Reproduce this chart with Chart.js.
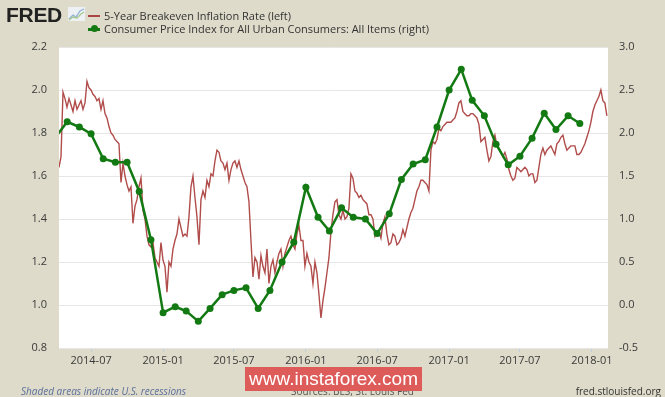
<!DOCTYPE html>
<html lang="en">
<head>
  <meta charset="UTF-8" />
  <title>5-Year Breakeven Inflation Rate vs CPI</title>
  <script src="https://cdn.jsdelivr.net/npm/chart.js"></script>
  <style>
    html, body { margin: 0; padding: 0; }
    body { background: #dedbca; font-family: 'Open Sans', sans-serif; }
    #wrap { position: relative; width: 665px; height: 397px; overflow: hidden; }
    #chart { position: absolute; left: 0; top: 0; }
    .logo { position: absolute; left: 6px; top: 3px; font: bold 21px 'Liberation Sans', Arial, sans-serif; color: #222; letter-spacing: -0.3px; }
    .logo-icon { position: absolute; left: 68px; top: 6px; }
    .legend { position: absolute; left: 88px; font-size: 11px; color: #333; white-space: nowrap; }
    .legend span.key { display: inline-block; position: relative; width: 12px; height: 2px; vertical-align: middle; margin-right: 4px; top: -1px; }
    .legend span.dot { position: absolute; left: 3px; top: -3px; width: 7px; height: 7px; border-radius: 50%; background: #137a13; }
    .foot { position: absolute; top: 384px; font-size: 10px; color: #333; white-space: nowrap; }
    .promo { position: absolute; left: 245px; top: 367px; width: 177px; height: 24px; background: #dd5c5a; color: #fff;
             font: 19px 'Liberation Sans', Arial, sans-serif; text-align: center; line-height: 24px; }
  </style>
</head>
<body>
<div id="wrap">
  <canvas id="chart" width="665" height="397"></canvas>

  <div class="logo">FRED</div>
  <svg class="logo-icon" width="17" height="16" viewBox="0 0 17 16">
    <rect x="0" y="1" width="17" height="14" fill="#eef1f4"/>
    <polyline points="1,13 5,9 8,11 12,5 16,3" fill="none" stroke="#8fb3d6" stroke-width="1.3"/>
    <polyline points="1,14 5,11 9,12 13,8 16,6" fill="none" stroke="#a7c98f" stroke-width="1.3"/>
  </svg>

  <div class="legend" style="top:8px"><span class="key" style="background:#aa4643"></span>5-Year Breakeven Inflation Rate (left)</div>
  <div class="legend" style="top:21px"><span class="key" style="background:#137a13;height:3px"><span class="dot"></span></span>Consumer Price Index for All Urban Consumers: All Items (right)</div>

  <div class="foot" style="left:21px;font-style:italic;color:#5b6f9c">Shaded areas indicate U.S. recessions</div>
  <div class="foot" style="left:291px;color:#555">Sources: BLS, St. Louis Fed</div>
  <div class="promo">www.instaforex.com</div>
  <div class="foot" style="right:4px">fred.stlouisfed.org</div>
</div>

<script>
  // x axis: dates, shown every 6 months
  const tickLabels = ['2014-07', '2015-01', '2015-07', '2016-01', '2016-07', '2017-01', '2017-07', '2018-01'];
  const viewStart = '2014-04-10';
  const viewEnd = '2018-02-11';

  // 5-Year Breakeven Inflation Rate (left axis), every ~5 days from 2014-04-10
  const breakevenStart = '2014-04-10';
  const breakevenStepDays = 5.11;
  const breakeven = [
    1.64, 1.69, 1.99, 1.96, 1.92, 1.96, 1.93, 1.90, 1.95, 1.91,
    1.93, 1.95, 1.91, 1.94, 2.04, 2.01, 2.00, 1.98, 1.97, 1.95,
    1.96, 1.91, 1.95, 1.89, 1.87, 1.83, 1.80, 1.79, 1.77, 1.76,
    1.75, 1.57, 1.66, 1.60, 1.56, 1.53, 1.55, 1.38, 1.46, 1.49,
    1.55, 1.59, 1.44, 1.40, 1.32, 1.28, 1.27, 1.29, 1.22, 1.20,
    1.18, 1.29, 1.21, 1.18, 1.06, 1.20, 1.18, 1.26, 1.30, 1.33,
    1.40, 1.36, 1.32, 1.33, 1.32, 1.41, 1.55, 1.60, 1.50, 1.41,
    1.28, 1.49, 1.53, 1.50, 1.58, 1.55, 1.61, 1.60, 1.67, 1.72,
    1.71, 1.67, 1.66, 1.63, 1.66, 1.58, 1.63, 1.66, 1.67, 1.64,
    1.67, 1.63, 1.60, 1.57, 1.55, 1.48, 1.30, 1.13, 1.22, 1.20,
    1.12, 1.23, 1.18, 1.15, 1.26, 1.10, 1.18, 1.21, 1.15, 1.20,
    1.24, 1.26, 1.18, 1.24, 1.27, 1.30, 1.32, 1.28, 1.26, 1.33,
    1.37, 1.30, 1.30, 1.18, 1.24, 1.20, 1.18, 1.10, 1.20, 1.15,
    1.05, 0.94, 1.02, 1.08, 1.15, 1.22, 1.34, 1.42, 1.48, 1.49,
    1.42, 1.40, 1.44, 1.40, 1.41, 1.45, 1.61, 1.59, 1.53, 1.52,
    1.50, 1.51, 1.49, 1.48, 1.47, 1.42, 1.42, 1.40, 1.32, 1.34,
    1.34, 1.31, 1.38, 1.41, 1.33, 1.28, 1.29, 1.33, 1.32, 1.28,
    1.29, 1.31, 1.35, 1.32, 1.36, 1.40, 1.43, 1.45, 1.49, 1.53,
    1.55, 1.58, 1.58, 1.57, 1.56, 1.53, 1.72, 1.76, 1.75, 1.77,
    1.82, 1.81, 1.83, 1.84, 1.85, 1.85, 1.85, 1.86, 1.87, 1.90,
    1.94, 1.95, 1.90, 1.89, 1.88, 1.88, 1.89, 1.89, 1.88, 1.87,
    1.84, 1.76, 1.77, 1.78, 1.72, 1.67, 1.69, 1.76, 1.79, 1.74,
    1.73, 1.71, 1.69, 1.71, 1.68, 1.63, 1.60, 1.58, 1.59, 1.64,
    1.63, 1.62, 1.63, 1.64, 1.63, 1.60, 1.61, 1.61, 1.57, 1.58,
    1.64, 1.70, 1.73, 1.70, 1.72, 1.73, 1.74, 1.72, 1.70, 1.75,
    1.76, 1.78, 1.79, 1.75, 1.72, 1.73, 1.74, 1.74, 1.74, 1.70,
    1.70, 1.71, 1.73, 1.75, 1.78, 1.81, 1.85, 1.90, 1.93, 1.95,
    1.97, 2.00, 1.95, 1.94, 1.88
  ];

  // CPI, percent change from a year ago (right axis), monthly
  const cpiMonths = [
    '2014-04', '2014-05', '2014-06', '2014-07', '2014-08', '2014-09', '2014-10', '2014-11', '2014-12',
    '2015-01', '2015-02', '2015-03', '2015-04', '2015-05', '2015-06', '2015-07', '2015-08', '2015-09', '2015-10', '2015-11', '2015-12',
    '2016-01', '2016-02', '2016-03', '2016-04', '2016-05', '2016-06', '2016-07', '2016-08', '2016-09', '2016-10', '2016-11', '2016-12',
    '2017-01', '2017-02', '2017-03', '2017-04', '2017-05', '2017-06', '2017-07', '2017-08', '2017-09', '2017-10', '2017-11', '2017-12'
  ];
  const cpi = [
    1.95, 2.13, 2.07, 1.99, 1.70, 1.66, 1.66, 1.32, 0.76,
    -0.09, -0.02, -0.07, -0.19, -0.04, 0.12, 0.17, 0.20, -0.04, 0.17, 0.50, 0.73,
    1.37, 1.02, 0.86, 1.13, 1.02, 1.00, 0.83, 1.06, 1.46, 1.64, 1.69, 2.07,
    2.50, 2.74, 2.38, 2.20, 1.87, 1.63, 1.73, 1.94, 2.23, 2.04, 2.20, 2.11
  ];

  const day0 = Date.UTC(2014, 0, 1);
  const toDay = s => (Date.parse(s.length === 7 ? s + '-01' : s) - day0) / 86400000;
  const tickDays = tickLabels.map(toDay);

  const breakevenPts = breakeven.map((v, i) => ({ x: toDay(breakevenStart) + i * breakevenStepDays, y: v }));
  const cpiPts = cpi.map((v, i) => ({ x: toDay(cpiMonths[i]), y: v }));

  const plotBg = {
    id: 'plotBg',
    beforeDraw(chart) {
      const a = chart.chartArea, c = chart.ctx;
      c.save();
      c.fillStyle = '#ffffff';
      c.fillRect(a.left, a.top, a.right - a.left, a.bottom - a.top);
      c.restore();
    }
  };

  Chart.defaults.font.family = "'Open Sans', sans-serif";
  Chart.defaults.font.size = 11;
  Chart.defaults.color = '#3a3a3a';

  new Chart(document.getElementById('chart'), {
    type: 'line',
    data: {
      datasets: [
        {
          label: 'Consumer Price Index for All Urban Consumers: All Items (right)',
          data: cpiPts,
          yAxisID: 'y1',
          borderColor: '#137a13',
          backgroundColor: '#137a13',
          borderWidth: 2.5,
          pointRadius: 3.5,
          pointBorderWidth: 0,
          tension: 0,
          clip: 0,
          order: 0
        },
        {
          label: '5-Year Breakeven Inflation Rate (left)',
          data: breakevenPts,
          yAxisID: 'y',
          borderColor: '#b04d4b',
          borderWidth: 1.4,
          pointRadius: 0,
          tension: 0,
          clip: 0,
          order: 1
        }
      ]
    },
    options: {
      responsive: false,
      animation: false,
      layout: { padding: { top: 47, left: 0, right: 0, bottom: 0 } },
      plugins: { legend: { display: false }, tooltip: { enabled: false } },
      scales: {
        x: {
          type: 'linear',
          min: toDay(viewStart),
          max: toDay(viewEnd),
          afterBuildTicks: s => { s.ticks = tickDays.map(v => ({ value: v })); },
          afterFit: s => { s.height = 49; },
          ticks: {
            autoSkip: false,
            maxRotation: 0,
            padding: 2,
            callback: (v, i) => tickLabels[i]
          },
          grid: { drawOnChartArea: false, drawTicks: true, tickLength: 4, color: '#c5cede' },
          border: { display: false }
        },
        y: {
          position: 'left',
          min: 0.8,
          max: 2.2,
          afterFit: s => { s.width = 59; },
          ticks: { stepSize: 0.2, padding: 12, callback: v => v.toFixed(1) },
          grid: { color: '#e6e6e6', drawTicks: false },
          border: { display: false }
        },
        y1: {
          position: 'right',
          min: -0.5,
          max: 3.0,
          afterFit: s => { s.width = 57; },
          ticks: { stepSize: 0.5, padding: 11, callback: v => v.toFixed(1) },
          grid: { drawOnChartArea: false, drawTicks: false },
          border: { display: false }
        }
      }
    },
    plugins: [plotBg]
  });
</script>
</body>
</html>
